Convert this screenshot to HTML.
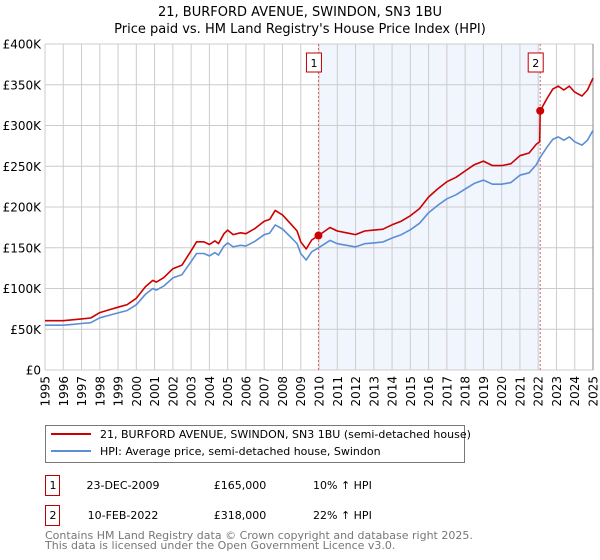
<!DOCTYPE html>
<html><head><meta charset="utf-8"><style>
body{margin:0;background:#fff;font-family:"DejaVu Sans","Liberation Sans",sans-serif;}
#wrap{position:relative;width:600px;height:560px;overflow:hidden}
</style></head><body><div id="wrap">
<svg id="c" width="600" height="560" style="position:absolute;left:0;top:0"></svg>
</div>
<script>
const hpiYears=[1995,1995.5,1996,1996.5,1997,1997.5,1998,1998.5,1999,1999.5,2000,2000.5,2000.9,2001.1,2001.5,2002,2002.5,2003,2003.3,2003.7,2004,2004.3,2004.5,2004.8,2005,2005.3,2005.7,2006,2006.5,2007,2007.3,2007.6,2008,2008.5,2008.8,2009,2009.3,2009.6,2009.97,2010.6,2011,2011.5,2012,2012.5,2013,2013.5,2014,2014.5,2015,2015.5,2016,2016.5,2017,2017.5,2018,2018.5,2019,2019.5,2020,2020.5,2021,2021.5,2021.9,2022.11,2022.5,2022.8,2023.1,2023.4,2023.7,2024,2024.4,2024.7,2025];
const hpiValues=[55,55,55,56,57,58,64,67,70,73,80,93,100,98,103,113,117,133,143,143,140,144,141,152,156,151,153,152,158,166,168,178,173,162,155,143,135,145,150,159,155,153,151,155,156,157,162,166,172,180,193,202,210,215,222,229,233,228,228,230,239,242,252,261,274,283,286,282,286,280,276,282,294];
const propYears=[1995,1995.5,1996,1996.5,1997,1997.5,1998,1998.5,1999,1999.5,2000,2000.5,2000.9,2001.1,2001.5,2002,2002.5,2003,2003.3,2003.7,2004,2004.3,2004.5,2004.8,2005,2005.3,2005.7,2006,2006.5,2007,2007.3,2007.6,2008,2008.5,2008.8,2009,2009.3,2009.6,2009.97,2010.6,2011,2011.5,2012,2012.5,2013,2013.5,2014,2014.5,2015,2015.5,2016,2016.5,2017,2017.5,2018,2018.5,2019,2019.5,2020,2020.5,2021,2021.5,2021.9,2022.08,2022.11,2022.5,2022.8,2023.1,2023.4,2023.7,2024,2024.4,2024.7,2025];
const propValues=[60.5,60.5,60.5,61.6,62.7,63.8,70.4,73.7,77,80.3,88,102.3,110,107.8,113.3,124.3,128.7,146.3,157.3,157.3,154,158.4,155.1,167.2,171.6,166.1,168.3,167.2,173.8,182.6,184.8,195.8,190.3,178.2,170.5,157.3,148.5,159.5,165,174.9,170.5,168.3,166.1,170.5,171.6,172.7,178.2,182.6,189.2,198,212.3,222.2,231,236.5,244.2,251.9,256.3,250.8,250.8,253,262.9,266.2,277.2,280,318,333.7,344.7,348.3,343.5,348.3,341,336.2,343.5,358.1];
const saleYears=[2009.97,2022.11];
const saleValues=[165,318];
const saleLabels=["1","2"];
const yTicks=[0,50,100,150,200,250,300,350,400];
const yTickLabels=["£0","£50K","£100K","£150K","£200K","£250K","£300K","£350K","£400K"];
const xTicks=[1995,1996,1997,1998,1999,2000,2001,2002,2003,2004,2005,2006,2007,2008,2009,2010,2011,2012,2013,2014,2015,2016,2017,2018,2019,2020,2021,2022,2023,2024,2025];

const X0=45,X1=593,Y0=370,Y1=44;
const xs=y=>X0+(y-1995)/30*(X1-X0);
const ys=v=>Y0-v/400*(Y0-Y1);
const NS="http://www.w3.org/2000/svg";
const svg=document.getElementById('c');
function mk(tag,attrs,parent){const e=document.createElementNS(NS,tag);for(const k in attrs)e.setAttribute(k,attrs[k]);(parent||svg).appendChild(e);return e;}

let sh=mk('rect',{x:xs(saleYears[0]),y:Y1,width:xs(saleYears[1])-xs(saleYears[0]),height:Y0-Y1,fill:'#eef3fc',opacity:0.8});


xTicks.forEach(t=>{let l=mk('line',{x1:xs(t),x2:xs(t),y1:Y1,y2:Y0,stroke:'#cccccc','stroke-width':1});


let tx=mk('text',{x:0,y:0,'font-size':12,'text-anchor':'end','font-family':'DejaVu Sans, sans-serif',transform:`translate(${xs(t)+4.5},${Y0+6}) rotate(-90)`});tx.textContent=t;


});
yTicks.forEach((t,i)=>{let l=mk('line',{x1:X0,x2:X1,y1:ys(t),y2:ys(t),stroke:'#cccccc','stroke-width':1});


let tx=mk('text',{x:41,y:ys(t)+4.5,'font-size':12,'text-anchor':'end','font-family':'DejaVu Sans, sans-serif'});tx.textContent=yTickLabels[i];


});
let ax=mk('line',{x1:X1,x2:X1,y1:Y1,y2:Y0,stroke:'#888','stroke-width':1});


saleYears.forEach((s,i)=>{let l=mk('line',{x1:xs(s),x2:xs(s),y1:Y1,y2:Y0,stroke:'#e06060','stroke-width':1,'stroke-dasharray':'2,2'});


let bx=xs(s)-11;let r=mk('rect',{x:bx-1,y:53,width:15,height:19,fill:'#fff',stroke:'#c00000','stroke-width':1});


let tx=mk('text',{x:bx+6.5,y:67,'font-size':11,'text-anchor':'middle','font-family':'DejaVu Sans, sans-serif'});tx.textContent=saleLabels[i];


});
function path(xa,va,col,name){let d=xa.map((x,i)=>(i?'L':'M')+xs(x).toFixed(1)+','+ys(va[i]).toFixed(1)).join('');
let p=mk('path',{d:d,fill:'none',stroke:col,'stroke-width':1.6,'stroke-linejoin':'round'});

}
path(hpiYears,hpiValues,'#5b8ed6','hpi-line');
path(propYears,propValues,'#cc0000','property-line');
saleYears.forEach((s,i)=>{let c=mk('circle',{cx:xs(s),cy:ys(saleValues[i]),r:4,fill:'#cc0000'});

});
[["21, BURFORD AVENUE, SWINDON, SN3 1BU",16],["Price paid vs. HM Land Registry's House Price Index (HPI)",33]].forEach(([s,y])=>{let t=mk('text',{x:300,y:y,'font-size':13,'text-anchor':'middle','font-family':'DejaVu Sans, sans-serif'});t.textContent=s;

});
let lg=mk('rect',{x:45.5,y:425.5,width:419,height:37,fill:'#fff',stroke:'#777','stroke-width':1});


[['#cc0000',"21, BURFORD AVENUE, SWINDON, SN3 1BU (semi-detached house)",434],['#5b8ed6',"HPI: Average price, semi-detached house, Swindon",451]].forEach(([c,s,y])=>{
let l=mk('line',{x1:51,x2:91,y1:y,y2:y,stroke:c,'stroke-width':2});


let t=mk('text',{x:100,y:y+4,'font-size':11,'font-family':'DejaVu Sans, sans-serif'});t.textContent=s;

});
[["1","23-DEC-2009","£165,000","10% ↑ HPI",475],["2","10-FEB-2022","£318,000","22% ↑ HPI",505]].forEach(r=>{
let y=r[4];let b=mk('rect',{x:45.5,y:y+0.5,width:14,height:20,fill:'#fff',stroke:'#c00000','stroke-width':1});


let cols=[[53,r[0],'middle'],[123,r[1],'middle'],[240,r[2],'middle'],[313,r[3],'start']];
cols.forEach(([x,s,a])=>{let t=mk('text',{x:x,y:y+14,'font-size':11,'text-anchor':a,'font-family':'DejaVu Sans, sans-serif'});t.textContent=s;

});});
[["Contains HM Land Registry data © Crown copyright and database right 2025.",539],["This data is licensed under the Open Government Licence v3.0.",549]].forEach(([s,y])=>{let t=mk('text',{x:45,y:y,'font-size':11,fill:'#777','font-family':'DejaVu Sans, sans-serif'});t.textContent=s;

});
</script></body></html>
